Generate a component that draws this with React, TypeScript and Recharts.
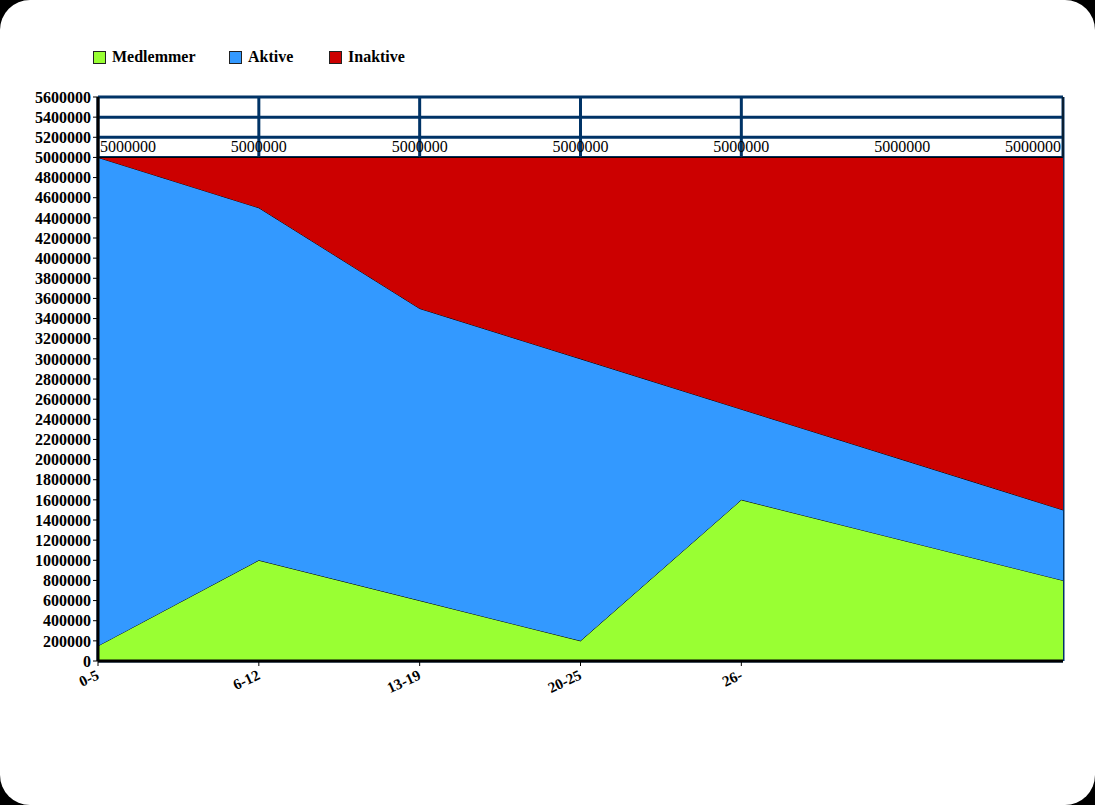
import { AreaChart, Area, XAxis, YAxis, CartesianGrid, LabelList, ReferenceLine } from "recharts";

const ageGroups = ["0-5", "6-12", "13-19", "20-25", "26-", "", ""];
const medlemmer = [150000, 1000000, 600000, 200000, 1600000, 1200000, 800000];
const aktive = [4850000, 3500000, 2900000, 2800000, 900000, 800000, 700000];
const inaktive = [0, 500000, 1500000, 2000000, 2500000, 3000000, 3500000];
const yTicks = Array.from({ length: 29 }, (_, i) => i * 200000);

const colors = { medlemmer: "#99ff33", aktive: "#3399ff", inaktive: "#cc0000" };
const serif = "'Liberation Serif', 'Times New Roman', serif";

const data = ageGroups.map((name, i) => ({
  x: i,
  name,
  Medlemmer: medlemmer[i],
  Aktive: aktive[i],
  Inaktive: inaktive[i],
}));

const xTicks = data.filter((d) => d.name !== "").map((d) => d.x);
const lastX = data.length - 1;

const AgeTick = ({ x, y, payload }: any) => (
  <text
    x={x}
    y={y + 6}
    transform={`rotate(-25, ${x}, ${y + 6})`}
    textAnchor="end"
    dominantBaseline="central"
    fontFamily={serif}
    fontWeight="bold"
    fontSize={15}
    fill="#000"
  >
    {ageGroups[payload.value]}
  </text>
);

const TotalLabel = ({ x, y, index }: any) => {
  const total = medlemmer[index] + aktive[index] + inaktive[index];
  const anchor = index === 0 ? "start" : index === lastX ? "end" : "middle";
  const dx = index === 0 ? 2 : index === lastX ? -2 : 0;
  return (
    <text x={x + dx} y={y - 5} textAnchor={anchor} fontFamily={serif} fontSize={16} fill="#000">
      {total}
    </text>
  );
};

const legendItems = [
  { label: "Medlemmer", color: colors.medlemmer, left: 93 },
  { label: "Aktive", color: colors.aktive, left: 229 },
  { label: "Inaktive", color: colors.inaktive, left: 329 },
];

export default function App() {
  return (
    <div style={{ position: "fixed", left: 0, top: 0, width: 1095, height: 805, background: "#000" }}>
      <div style={{ position: "absolute", inset: 0, background: "#fff", borderRadius: 30 }} />
      {legendItems.map((item) => (
        <div
          key={item.label}
          style={{
            position: "absolute",
            left: item.left,
            top: 48,
            display: "flex",
            alignItems: "center",
            fontFamily: serif,
            fontWeight: "bold",
            fontSize: 16,
            color: "#000",
          }}
        >
          <span
            style={{
              display: "inline-block",
              width: 11,
              height: 11,
              background: item.color,
              border: "1px solid #222",
              marginRight: 6,
            }}
          />
          {item.label}
        </div>
      ))}
      <div style={{ position: "absolute", left: 0, top: 0 }}>
        <AreaChart width={1095} height={805} data={data} margin={{ top: 97, right: 32, bottom: 114, left: 0 }}>
          <CartesianGrid stroke="#003366" strokeWidth={3} />
          <XAxis
            dataKey="x"
            type="number"
            domain={[0, lastX]}
            ticks={xTicks}
            interval={0}
            height={30}
            tick={<AgeTick />}
            tickSize={5}
            axisLine={{ stroke: "#000", strokeWidth: 3 }}
            tickLine={{ stroke: "#000" }}
          />
          <YAxis
            width={98}
            domain={[0, 5600000]}
            ticks={yTicks}
            interval={0}
            tickSize={5}
            tick={{ fill: "#000", fontFamily: serif, fontWeight: "bold", fontSize: 16 }}
            axisLine={{ stroke: "#000", strokeWidth: 3 }}
            tickLine={{ stroke: "#000" }}
          />
          <Area
            type="linear"
            dataKey="Medlemmer"
            stackId="1"
            stroke="#000"
            strokeWidth={1}
            fill={colors.medlemmer}
            fillOpacity={1}
            isAnimationActive={false}
          />
          <Area
            type="linear"
            dataKey="Aktive"
            stackId="1"
            stroke="#000"
            strokeWidth={1}
            fill={colors.aktive}
            fillOpacity={1}
            isAnimationActive={false}
          />
          <Area
            type="linear"
            dataKey="Inaktive"
            stackId="1"
            stroke="#000"
            strokeWidth={1}
            fill={colors.inaktive}
            fillOpacity={1}
            isAnimationActive={false}
          >
            <LabelList dataKey="Inaktive" content={<TotalLabel />} />
          </Area>
          <ReferenceLine
            segment={[
              { x: lastX, y: 5000000 },
              { x: lastX, y: 5600000 },
            ]}
            stroke="#0a1f33"
            strokeWidth={2}
          />
        </AreaChart>
      </div>
    </div>
  );
}
